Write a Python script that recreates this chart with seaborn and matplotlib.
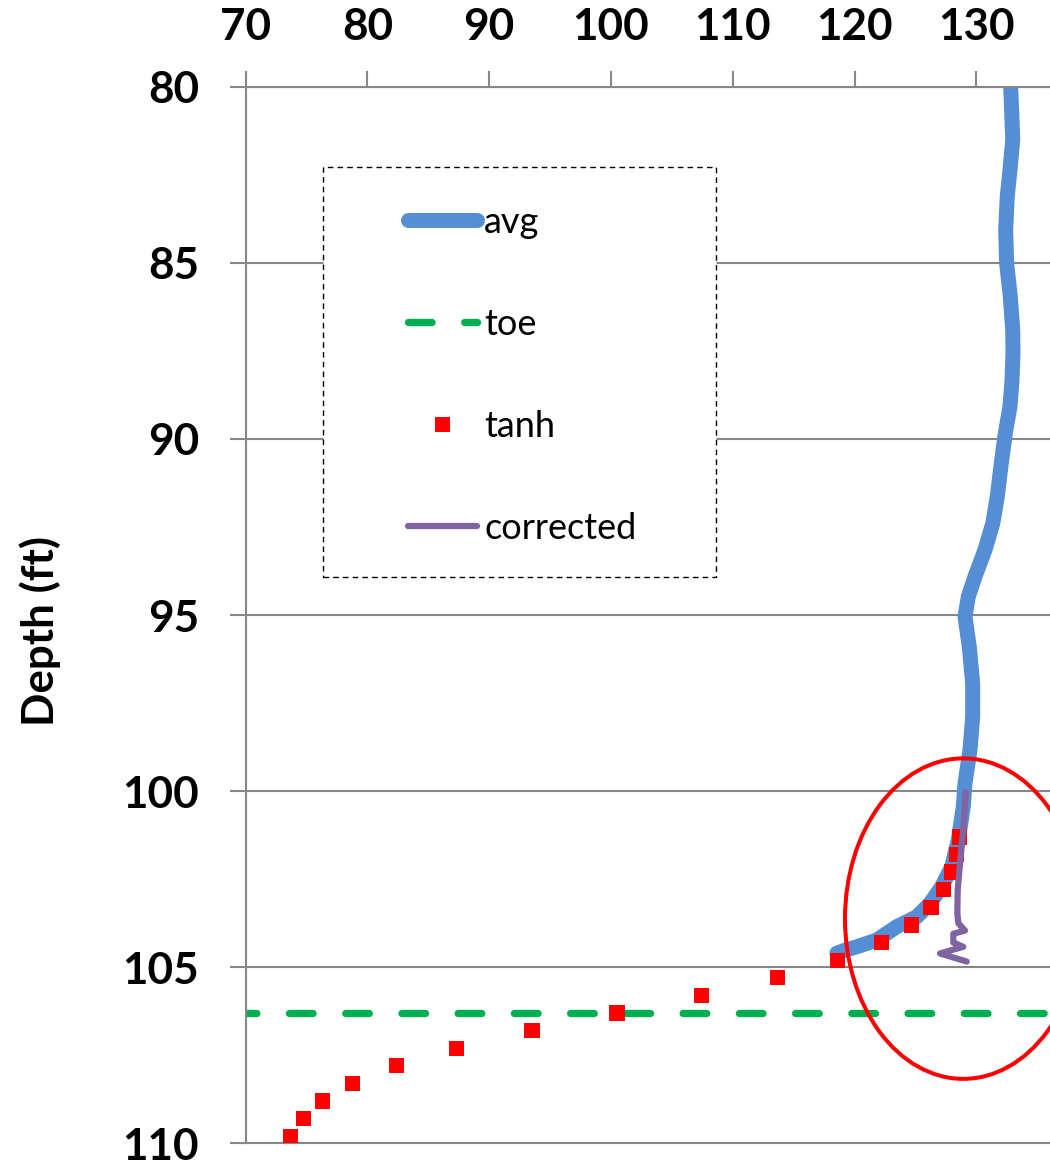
import matplotlib
matplotlib.use("Agg")
import matplotlib.pyplot as plt
from matplotlib.patches import Ellipse, Rectangle
import seaborn as sns

# Averaged profile (value vs depth)
avg_depth = [80.00, 80.76, 81.51, 82.27, 83.12, 84.07, 85.01, 85.96, 86.91, 87.57,
             88.33, 89.09, 89.84, 90.69, 91.64, 92.40, 93.15, 93.91, 94.48, 95.05,
             95.90, 96.94, 97.89, 98.83, 99.78, 100.44, 101.39, 102.15, 102.71, 103.19,
             103.57, 103.85, 104.23, 104.42, 104.52, 104.60]
avg_value = [132.82, 132.91, 132.99, 132.79, 132.54, 132.41, 132.49, 132.79, 132.99, 133.01,
             132.93, 132.76, 132.38, 132.05, 131.72, 131.35, 130.71, 129.89, 129.34, 129.07,
             129.42, 129.70, 129.70, 129.48, 129.07, 128.93, 128.52, 127.98, 127.16, 126.20,
             125.10, 123.46, 121.82, 120.18, 119.20, 118.55]

# Toe depth
toe_depth = 106.3

# tanh fit, sampled every 0.5 ft
tanh_depth = [109.8, 109.3, 108.8, 108.3, 107.8, 107.3, 106.8, 106.3, 105.8,
              105.3, 104.8, 104.3, 103.8, 103.3, 102.8, 102.3, 101.8, 101.3]
tanh_value = [73.68, 74.72, 76.31, 78.78, 82.38, 87.32, 93.52, 100.50, 107.45,
              113.66, 118.59, 122.20, 124.66, 126.28, 127.32, 127.98, 128.36, 128.60]

# Corrected profile near the toe
corrected_depth = [100.02, 101.10, 102.05, 102.81, 103.47, 103.75, 103.96,
                   104.05, 104.30, 104.42, 104.61, 104.84]
corrected_value = [129.13, 128.93, 128.66, 128.47, 128.44, 128.52, 129.07,
                   128.11, 128.11, 128.93, 127.02, 129.21]

x_ticks = [70, 80, 90, 100, 110, 120, 130]
y_ticks = [80, 85, 90, 95, 100, 105, 110]

sns.set_style("white")
plt.rcParams["font.family"] = ["Lato", "DejaVu Sans"]
plt.rcParams.update({
    "text.color": "black",
    "axes.labelcolor": "black",
    "xtick.labelcolor": "black",
    "ytick.labelcolor": "black",
})

GRAY = "#878787"
TICK_FS = 31.7

fig = plt.figure(figsize=(10.5, 11.67), dpi=100)
ax = fig.add_axes([0.2340, 0.0203, 0.7660, 0.9054])

sns.lineplot(x=avg_value, y=avg_depth, sort=False, estimator=None, ax=ax,
             color="#558ED5", lw=10.8, solid_capstyle="round",
             solid_joinstyle="round", label="avg", zorder=2)
toe_line = ax.axhline(toe_depth, color="#00B050", lw=5.3, ls=(0, (3.2, 4.44)),
                      dash_capstyle="round", label="toe", zorder=2)
sns.scatterplot(x=tanh_value, y=tanh_depth, ax=ax, marker="s", s=121,
                color="#FF0000", edgecolor="none", linewidth=0,
                label="tanh", zorder=3)
sns.lineplot(x=corrected_value, y=corrected_depth, sort=False, estimator=None,
             ax=ax, color="#8064A2", lw=4.5, solid_capstyle="round",
             solid_joinstyle="round", label="corrected", zorder=4)

# Highlight around the toe region
ax.add_patch(Ellipse((128.93, 103.62), width=19.43, height=9.10, fill=False,
                     ec="#FF0000", lw=2.9, zorder=6))

ax.set_xlim(70, 136.05)
ax.set_ylim(110, 80)
ax.set_xticks(x_ticks)
ax.set_yticks(y_ticks)
ax.set_xlabel("")

ax.xaxis.tick_top()
ax.tick_params(axis="x", top=True, bottom=False, labeltop=True, labelbottom=False,
               direction="out", length=11.5, width=1.5, color=GRAY, pad=17,
               labelsize=TICK_FS, labelcolor="black")
ax.tick_params(axis="y", left=True, direction="out", length=11.5, width=1.5,
               color=GRAY, pad=22, labelsize=TICK_FS, labelcolor="black")
for lbl in ax.get_xticklabels() + ax.get_yticklabels():
    lbl.set_fontweight("bold")

ax.yaxis.grid(True, color=GRAY, lw=1.5)
ax.xaxis.grid(False)
ax.set_axisbelow(True)
for side in ("left", "top", "bottom"):
    ax.spines[side].set_color(GRAY)
    ax.spines[side].set_linewidth(1.5)
ax.spines["right"].set_visible(False)

ax.set_ylabel("Depth (ft)", fontsize=TICK_FS, fontweight="bold", color="black")
ax.yaxis.set_label_coords(-0.2296, 0.485)

# Legend with a dashed, white-filled frame around it
ax.add_patch(Rectangle((0.0961, 0.536), 0.4886, 0.388, transform=ax.transAxes,
                       facecolor="white", edgecolor="black", lw=1.0,
                       ls=(0, (4, 3)), zorder=4.5))
leg = ax.legend(loc="upper left", bbox_to_anchor=(0.2024, 0.887), frameon=False,
                fontsize=26, handlelength=1.9, handletextpad=0.2, labelspacing=1.91,
                borderpad=0, borderaxespad=0, scatteryoffsets=[0.5])
for txt in leg.get_texts():
    txt.set_color("black")

# Phase of the toe dashes along the axis
toe_line.set_linestyle((1.8, (3.2, 4.44)))

fig.savefig("out.png", dpi=100, facecolor="white")
